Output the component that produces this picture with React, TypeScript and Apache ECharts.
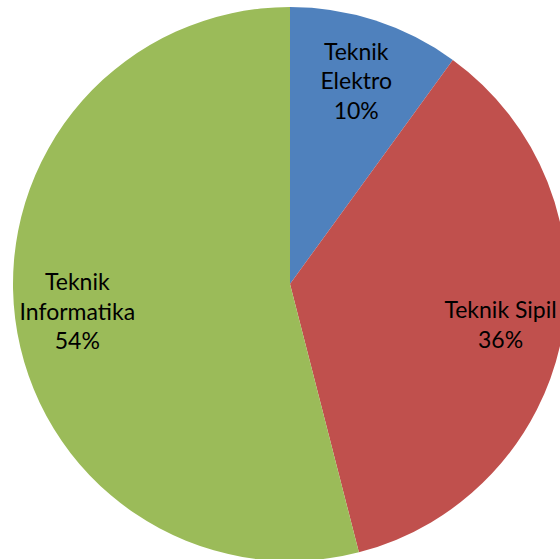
import React, { useEffect, useRef } from "react";
import * as echarts from "echarts";

const categories = ["Teknik\nElektro", "Teknik Sipil", "Teknik\nInformatika"];
const values = [10, 36, 54];
const colors = ["#4F81BD", "#C0504D", "#9BBB59"];

export default function App() {
  const ref = useRef<HTMLDivElement>(null);
  useEffect(() => {
    if (!ref.current) return;
    const chart = echarts.init(ref.current, null, { renderer: "svg" });
    const R = 277;
    const data = categories.map((name, i) => ({ name, value: values[i] }));
    chart.setOption({
      animation: false,
      backgroundColor: "#ffffff",
      series: [
        {
          type: "pie",
          center: [290, 284],
          radius: [0, R],
          startAngle: 90,
          clockwise: true,
          silent: true,
          label: { show: false },
          labelLine: { show: false },
          itemStyle: { borderWidth: 0 },
          data: data.map((d, i) => ({ ...d, itemStyle: { color: colors[i] } })),
        },
        {
          type: "pie",
          center: [290, 284],
          radius: [R * 0.526, R],
          startAngle: 90,
          clockwise: true,
          silent: true,
          itemStyle: { color: "rgba(0,0,0,0)", borderWidth: 0 },
          label: {
            show: true,
            position: "inside",
            fontFamily: "Lato",
            fontSize: 23,
            lineHeight: 29.5,
            color: "#000000",
            align: "center",
            padding: [10, 0, 0, 0],
            formatter: (p: any) => `${p.name}\n${Math.round(p.percent)}%`,
          },
          labelLine: { show: false },
          data,
        },
      ],
    });
    return () => chart.dispose();
  }, []);
  return (
    <div
      ref={ref}
      style={{ position: "fixed", left: 0, top: 0, width: 560, height: 559 }}
    />
  );
}
